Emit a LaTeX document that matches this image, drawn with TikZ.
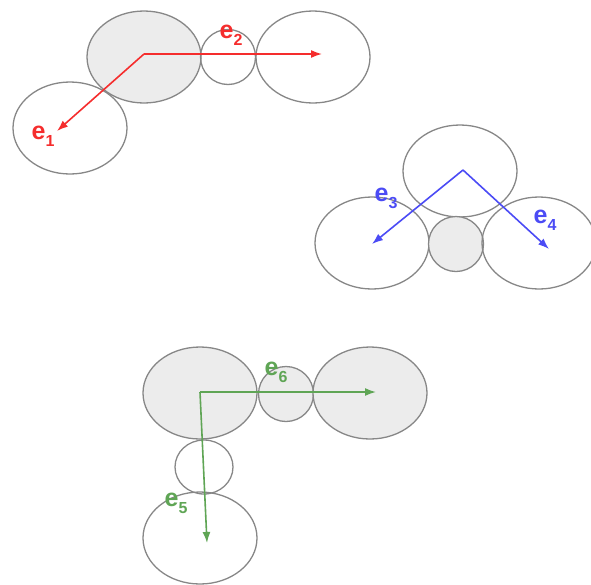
\documentclass[tikz,border=0pt]{standalone}
\usepackage{fontspec}
\setmainfont{Liberation Sans}
\usetikzlibrary{shapes.geometric,arrows.meta}
\definecolor{vred}{RGB}{245,45,45}
\definecolor{vblue}{RGB}{75,75,245}
\definecolor{vgreen}{RGB}{95,165,85}
\definecolor{blobfill}{RGB}{236,236,236}
\definecolor{blobline}{RGB}{135,135,135}
\tikzset{
  big/.style={ellipse, draw=blobline, line width=1.3pt, minimum width=114pt, minimum height=92pt, inner sep=0pt},
  small/.style={circle, draw=blobline, line width=1.3pt, minimum size=55pt, inner sep=0pt},
  shaded/.style={fill=blobfill},
  vec/.style={line width=1.6pt, -{Latex[length=11pt,width=8pt]}},
  lab/.style={font=\fontsize{25}{25}\selectfont\bfseries, inner sep=0pt}
}
\newcommand{\esub}[1]{e\raisebox{-0.55ex}{\fontsize{16}{16}\selectfont #1}}
\begin{document}
\begin{tikzpicture}[x=1pt,y=-1pt]
\useasboundingbox (0,0) rectangle (591,584);

% first chain: two outer blobs linked by a small sphere, plus a side blob
\node[big,shaded] (a1) at (144,57) {};
\node[small] (a2) at (228,57) {};
\node[big] (a3) at (313,57) {};
\node[big] (a4) at (70,128) {};
\coordinate (o1) at (144,54);
\coordinate (t1) at (57,131);
\coordinate (t2) at (322,54);
\draw[vec,vred] (o1) -- (t1);
\draw[vec,vred] (o1) -- (t2);
\node[lab,text=vred] (l1) at (43,136) {\esub{1}};
\node[lab,text=vred] (l2) at (231,35) {\esub{2}};

% second group: one blob above a bridged pair
\node[big] (b1) at (460,171) {};
\node[big] (b2) at (372,243) {};
\node[small,shaded] (b3) at (456,244) {};
\node[big] (b4) at (539,243) {};
\coordinate (o2) at (463,170);
\coordinate (t3) at (372,244);
\coordinate (t4) at (549,249);
\draw[vec,vblue] (o2) -- (t3);
\draw[vec,vblue] (o2) -- (t4);
\node[lab,text=vblue] (l3) at (386,198) {\esub{3}};
\node[lab,text=vblue] (l4) at (545,220) {\esub{4}};

% third group: horizontal and vertical chains sharing a corner blob
\node[big,shaded] (c1) at (200,393) {};
\node[small,shaded] (c2) at (286,394) {};
\node[big,shaded] (c3) at (370,393) {};
\node[ellipse, draw=blobline, line width=1.3pt, minimum width=58pt, minimum height=54pt, inner sep=0pt] (c4) at (204,467) {};
\node[big] (c5) at (200,538) {};
\coordinate (o3) at (200,392);
\coordinate (t5) at (207,543);
\coordinate (t6) at (376,392);
\draw[vec,vgreen] (o3) -- (t5);
\draw[vec,vgreen] (o3) -- (t6);
\node[lab,text=vgreen] (l5) at (176,503) {\esub{5}};
\node[lab,text=vgreen] (l6) at (276,372) {\esub{6}};
\end{tikzpicture}
\end{document}
